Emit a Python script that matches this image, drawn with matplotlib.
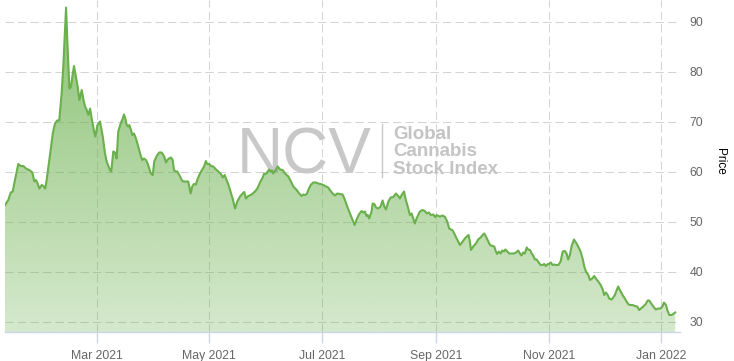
import matplotlib
matplotlib.use("Agg")
import matplotlib.pyplot as plt
import matplotlib.dates as mdates
from matplotlib.patches import Polygon
from matplotlib.lines import Line2D
import numpy as np
import datetime as dt

plt.rcParams['font.family'] = ['Liberation Sans', 'DejaVu Sans']

# Days since 2021-01-01 and index price values
days = [9.3, 11.1, 12.4, 13.5, 14.7, 16.5, 17.8, 19.2, 20.7, 22.9, 24.1, 25.2, 26.1, 27.0, 27.9,
        29.2, 30.1, 31.1, 31.9, 33.3, 35.2, 36.4, 37.6, 38.7, 40.0, 40.9, 41.8, 42.4, 43.3, 44.2,
        45.1, 45.8, 46.7, 47.6, 48.7, 49.6, 50.9, 51.7, 52.7, 53.6, 54.5, 55.4, 56.3, 57.6, 58.3,
        59.4, 60.8, 62.3, 63.5, 64.4, 66.2, 66.9, 68.0, 68.9, 69.8, 70.7, 72.0, 73.1, 73.8, 74.5,
        75.3, 76.1, 76.7, 77.6, 78.3, 79.2, 80.3, 81.5, 82.8, 83.7, 84.6, 85.7, 86.6, 87.5, 88.4,
        89.4, 90.2, 91.5, 92.9, 94.2, 95.5, 96.6, 97.3, 98.2, 99.3, 100.2, 100.9, 101.8, 102.7, 104.2,
        105.1, 105.9, 107.4, 108.6, 109.2, 109.9, 110.8, 111.7, 112.8, 113.5, 114.6, 115.9, 117.2, 118.2, 118.9,
        120.0, 121.1, 122.2, 123.7, 124.9, 126.4, 127.3, 128.4, 129.5, 130.3, 131.3, 132.7, 134.0, 135.2, 136.7,
        138.1, 139.0, 139.9, 141.2, 143.0, 144.8, 146.1, 147.5, 149.0, 149.8, 150.8, 151.7, 152.5, 153.3, 154.0,
        154.7, 155.3, 156.2, 157.1, 158.4, 159.8, 161.1, 162.9, 164.3, 165.6, 167.4, 168.8, 170.1, 171.0, 171.9,
        172.9, 173.7, 175.0, 176.4, 177.9, 179.1, 180.4, 181.8, 183.3, 184.5, 185.4, 186.9, 188.1, 189.4, 190.9,
        192.3, 193.6, 194.8, 196.3, 197.7, 198.8, 199.9, 201.3, 202.6, 203.5, 204.4, 205.3, 205.9, 206.7, 208.0,
        208.6, 209.5, 210.4, 211.6, 212.9, 214.0, 214.9, 215.8, 217.1, 218.4, 219.8, 221.2, 222.5, 223.4, 224.3,
        225.6, 226.6, 227.9, 228.8, 229.7, 230.6, 231.5, 232.4, 233.3, 234.2, 235.7, 236.9, 237.9, 239.1, 240.2,
        241.5, 242.4, 243.3, 244.2, 245.1, 246.5, 247.8, 249.0, 250.1, 252.0, 253.2, 254.4, 255.9, 257.4, 258.6,
        259.9, 260.6, 261.3, 261.9, 263.1, 264.6, 265.8, 267.1, 268.2, 269.1, 270.0, 271.3, 272.2, 273.6, 274.5,
        275.4, 276.1, 277.0, 278.0, 278.8, 279.8, 280.5, 281.6, 282.6, 283.9, 285.2, 286.3, 287.5, 288.4, 289.3,
        290.2, 291.1, 292.1, 292.9, 293.9, 294.8, 295.7, 296.6, 297.5, 298.6, 299.7, 300.8, 301.6, 302.5, 303.5,
        304.3, 305.2, 306.1, 307.0, 307.9, 309.2, 310.5, 311.6, 312.8, 313.7, 314.6, 315.5, 316.4, 317.7, 318.8,
        320.0, 321.3, 322.4, 323.3, 324.2, 325.5, 326.4, 327.6, 328.7, 329.6, 330.9, 332.2, 333.3, 334.1, 335.0,
        336.0, 336.8, 338.1, 339.0, 339.9, 340.8, 341.7, 342.6, 343.6, 344.4, 345.3, 346.2, 347.1, 348.0, 349.5,
        350.7, 352.0, 353.1, 354.0, 355.3, 356.6, 357.7, 358.5, 359.8, 361.1, 362.1, 363.4, 364.7, 365.8, 366.5,
        367.6, 368.3, 369.4, 370.7, 371.9, 372.6]
values = [53.3, 54.3, 55.8, 56.0, 58.3, 61.5, 61.1, 61.1, 60.6, 60.2, 59.8, 58.0, 58.3, 57.6, 56.6,
          57.3, 57.1, 56.6, 58.3, 62.3, 67.6, 69.6, 70.2, 70.2, 75.6, 81.0, 88.3, 92.8, 84.3, 76.6,
          77.0, 79.0, 81.1, 79.3, 77.0, 74.3, 76.3, 74.6, 73.0, 72.3, 71.3, 72.6, 70.6, 68.0, 67.0,
          69.3, 70.0, 67.0, 63.6, 62.0, 60.3, 60.0, 64.0, 63.8, 62.6, 68.0, 69.6, 70.6, 71.4, 70.6,
          69.3, 69.0, 69.3, 68.3, 67.3, 67.6, 66.6, 65.0, 63.3, 62.3, 62.6, 62.3, 61.6, 60.6, 59.6,
          59.3, 62.0, 63.1, 63.8, 63.8, 63.1, 61.8, 62.3, 62.6, 62.8, 62.3, 60.3, 60.0, 60.0, 59.0,
          58.3, 58.0, 58.0, 58.0, 57.0, 55.6, 57.0, 57.5, 57.4, 58.3, 59.3, 60.2, 61.0, 62.1, 61.5,
          61.5, 61.1, 61.0, 60.4, 60.0, 59.5, 58.8, 59.3, 58.2, 57.5, 56.3, 54.6, 52.6, 54.0, 55.0,
          55.6, 55.9, 54.6, 55.1, 55.4, 56.0, 56.6, 57.8, 58.8, 59.6, 59.5, 60.0, 60.4, 60.0, 60.2,
          59.6, 60.0, 60.4, 61.0, 60.4, 60.3, 59.6, 59.0, 58.0, 57.0, 56.3, 55.6, 55.1, 55.4, 55.3,
          55.5, 56.3, 57.3, 57.8, 57.8, 57.6, 57.5, 57.3, 57.0, 56.8, 56.3, 55.6, 55.2, 55.6, 55.5,
          55.4, 54.3, 53.0, 51.6, 50.3, 49.3, 50.4, 51.5, 52.1, 51.8, 52.0, 51.1, 51.3, 50.6, 52.0,
          53.6, 53.5, 52.8, 52.6, 53.0, 54.2, 53.0, 52.4, 54.0, 54.8, 54.9, 55.6, 55.1, 54.6, 55.3,
          56.0, 54.3, 52.6, 51.3, 51.6, 50.6, 49.6, 50.6, 51.3, 52.0, 52.3, 52.1, 51.6, 51.8, 51.3,
          51.4, 50.9, 51.3, 51.1, 51.0, 51.2, 50.9, 50.0, 48.6, 48.2, 47.3, 46.4, 45.3, 46.0, 46.6,
          47.1, 47.3, 46.0, 44.3, 45.0, 45.6, 46.4, 46.8, 47.3, 47.6, 47.0, 46.0, 45.3, 45.1, 45.0,
          44.0, 43.5, 44.0, 43.6, 44.2, 44.0, 44.4, 44.0, 43.6, 43.6, 43.6, 43.8, 44.2, 43.6, 43.2,
          43.8, 43.6, 44.8, 44.4, 44.3, 43.6, 43.1, 42.4, 42.4, 41.8, 41.3, 41.3, 41.5, 41.1, 41.5,
          41.5, 41.8, 41.3, 41.4, 41.3, 41.3, 42.0, 44.0, 44.1, 43.6, 42.4, 43.3, 45.0, 46.4, 45.8,
          45.0, 44.0, 42.6, 41.0, 40.0, 39.3, 38.3, 38.6, 39.1, 38.6, 38.0, 37.3, 36.4, 35.3, 35.8,
          35.3, 34.6, 34.4, 34.8, 35.3, 36.2, 37.0, 36.3, 35.6, 35.1, 34.6, 34.0, 33.5, 33.3, 33.3,
          33.1, 33.0, 32.3, 32.6, 33.0, 33.5, 34.2, 34.2, 33.5, 32.8, 32.4, 32.6, 32.6, 33.1, 33.8,
          33.3, 32.3, 31.3, 31.3, 31.6, 31.8]

y_ticks = [30, 40, 50, 60, 70, 80, 90]
x_tick_dates = ["2021-03-01", "2021-05-01", "2021-07-01", "2021-09-01", "2021-11-01", "2022-01-01"]
x_tick_labels = ["Mar 2021", "May 2021", "Jul 2021", "Sep 2021", "Nov 2021", "Jan 2022"]

W, H = 734, 361
fig = plt.figure(figsize=(W / 100, H / 100), dpi=100)
ax = fig.add_axes([5 / W, 29 / H, 675 / W, 332 / H])

base = mdates.date2num(dt.datetime(2021, 1, 1))
x = base + np.array(days)
y = np.array(values)
xmin, xmax = base + 9.3, base + 375.2
ymin, ymax = 27.9, 94.3

green = np.array([106, 176, 76]) / 255.0
n = 256
img = np.zeros((n, 1, 4))
img[..., :3] = green
img[..., 3] = np.linspace(0.28, 0.78, n)[:, None]
im = ax.imshow(img, extent=[xmin, xmax, ymin, ymax], origin='lower', aspect='auto',
               zorder=1, interpolation='bilinear')
poly = Polygon(np.column_stack([np.r_[x[0], x, x[-1]], np.r_[ymin, y, ymin]]),
               closed=True, facecolor='none', edgecolor='none', transform=ax.transData)
ax.add_patch(poly)
im.set_clip_path(poly)

ax.plot(x, y, color='#6ab04c', linewidth=1.5, zorder=3, solid_joinstyle='round')

ax.set_xlim(xmin, xmax)
ax.set_ylim(ymin, ymax)

ax.set_yticks(y_ticks)
ax.yaxis.tick_right()
ax.tick_params(axis='y', length=0, pad=7, labelcolor='#666666', labelsize=8.8)
tick_nums = [mdates.date2num(dt.datetime.strptime(d, "%Y-%m-%d")) for d in x_tick_dates]
ax.set_xticks(tick_nums)
ax.set_xticklabels(x_tick_labels)
ax.tick_params(axis='x', length=8, width=1, color='#ccd6eb', pad=5, labelcolor='#666666', labelsize=8.8)

ax.set_axisbelow(True)
ax.grid(True, color='#d4d4d4', linestyle=(0, (8, 4)), linewidth=0.75)
for s in ['top', 'left', 'right']:
    ax.spines[s].set_visible(False)
ax.spines['bottom'].set_color('#ccd6eb')
ax.spines['bottom'].set_linewidth(1)

fig.text(720 / W, (H - 161.5) / H, 'Price', rotation=270, ha='center', va='center',
         fontsize=8.5, color='#000000')

# watermark (behind the series)
ax.text(237 / W, (H - 173) / H, 'NCV', transform=fig.transFigure, fontsize=46,
        color='#c8c8c8', ha='left', va='baseline', zorder=0.8)
ax.add_line(Line2D([382 / W, 382 / W], [(H - 177) / H, (H - 124) / H], transform=fig.transFigure,
                   color='#c8c8c8', linewidth=1, zorder=0.8, clip_on=False))
for i, word in enumerate(['Global', 'Cannabis', 'Stock Index']):
    ax.text(393 / W, (H - 139 - 17.5 * i) / H, word, transform=fig.transFigure, fontsize=13.5,
            fontweight='bold', color='#c4c4c4', ha='left', va='baseline', zorder=0.8)

fig.savefig('out.png', dpi=100)
